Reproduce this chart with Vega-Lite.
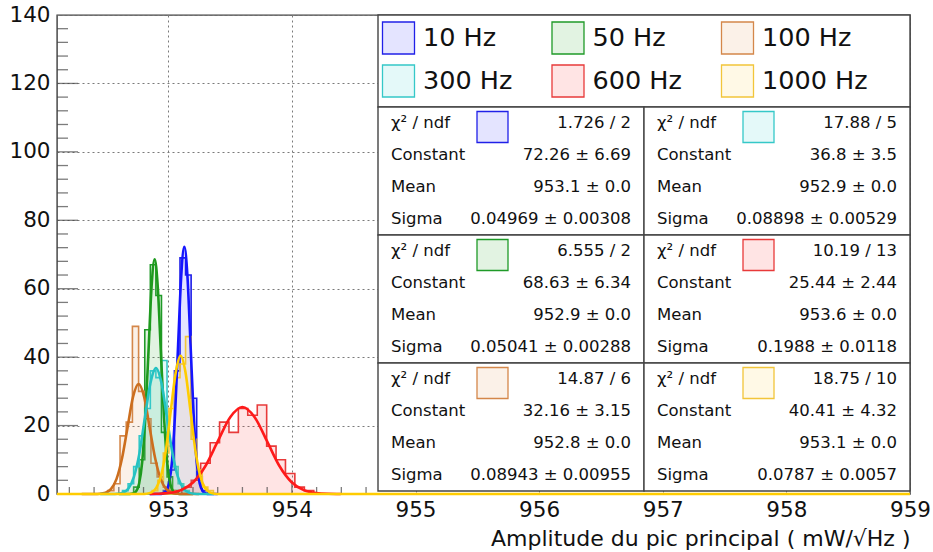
{
  "$schema": "https://vega.github.io/schema/vega-lite/v6.json",
  "width": 853,
  "height": 479,
  "autosize": {"type": "none"},
  "padding": {"left": 57, "top": 15, "right": 23, "bottom": 58},
  "background": "white",
  "config": {
    "font": "DejaVu Sans",
    "view": {"stroke": "#3c3c3c", "strokeWidth": 1.4},
    "axis": {"labelFont": "DejaVu Sans", "titleFont": "DejaVu Sans", "labelColor": "#111", "titleColor": "#111", "titleFontWeight": "normal"}
  },
  "datasets": {
    "hist": [
      {"s": "600 Hz", "x": 953.110, "y": 2}, {"s": "600 Hz", "x": 953.186, "y": 4}, {"s": "600 Hz", "x": 953.262, "y": 9},
      {"s": "600 Hz", "x": 953.339, "y": 15}, {"s": "600 Hz", "x": 953.415, "y": 21}, {"s": "600 Hz", "x": 953.491, "y": 18},
      {"s": "600 Hz", "x": 953.567, "y": 25}, {"s": "600 Hz", "x": 953.643, "y": 23}, {"s": "600 Hz", "x": 953.720, "y": 26},
      {"s": "600 Hz", "x": 953.796, "y": 14}, {"s": "600 Hz", "x": 953.872, "y": 10}, {"s": "600 Hz", "x": 953.948, "y": 6},
      {"s": "600 Hz", "x": 954.024, "y": 2}, {"s": "600 Hz", "x": 954.101, "y": 1}, {"s": "600 Hz", "x": 954.177, "y": 0},

      {"s": "10 Hz", "x": 952.960, "y": 1}, {"s": "10 Hz", "x": 953.005, "y": 7}, {"s": "10 Hz", "x": 953.050, "y": 36},
      {"s": "10 Hz", "x": 953.095, "y": 69}, {"s": "10 Hz", "x": 953.140, "y": 64}, {"s": "10 Hz", "x": 953.185, "y": 28},
      {"s": "10 Hz", "x": 953.230, "y": 5}, {"s": "10 Hz", "x": 953.275, "y": 1}, {"s": "10 Hz", "x": 953.320, "y": 0},

      {"s": "50 Hz", "x": 952.720, "y": 2}, {"s": "50 Hz", "x": 952.765, "y": 10}, {"s": "50 Hz", "x": 952.810, "y": 48},
      {"s": "50 Hz", "x": 952.855, "y": 67}, {"s": "50 Hz", "x": 952.900, "y": 58}, {"s": "50 Hz", "x": 952.945, "y": 18},
      {"s": "50 Hz", "x": 952.990, "y": 5}, {"s": "50 Hz", "x": 953.035, "y": 1}, {"s": "50 Hz", "x": 953.080, "y": 0},

      {"s": "100 Hz", "x": 952.51, "y": 1}, {"s": "100 Hz", "x": 952.56, "y": 3}, {"s": "100 Hz", "x": 952.61, "y": 17},
      {"s": "100 Hz", "x": 952.66, "y": 21}, {"s": "100 Hz", "x": 952.71, "y": 49}, {"s": "100 Hz", "x": 952.76, "y": 30},
      {"s": "100 Hz", "x": 952.81, "y": 22}, {"s": "100 Hz", "x": 952.86, "y": 9}, {"s": "100 Hz", "x": 952.91, "y": 5},
      {"s": "100 Hz", "x": 952.96, "y": 2}, {"s": "100 Hz", "x": 953.01, "y": 1}, {"s": "100 Hz", "x": 953.06, "y": 0},

      {"s": "300 Hz", "x": 952.630, "y": 1}, {"s": "300 Hz", "x": 952.675, "y": 3}, {"s": "300 Hz", "x": 952.720, "y": 8},
      {"s": "300 Hz", "x": 952.765, "y": 17}, {"s": "300 Hz", "x": 952.810, "y": 25}, {"s": "300 Hz", "x": 952.855, "y": 36},
      {"s": "300 Hz", "x": 952.900, "y": 34}, {"s": "300 Hz", "x": 952.945, "y": 39}, {"s": "300 Hz", "x": 952.990, "y": 14},
      {"s": "300 Hz", "x": 953.035, "y": 8}, {"s": "300 Hz", "x": 953.080, "y": 3}, {"s": "300 Hz", "x": 953.125, "y": 1},
      {"s": "300 Hz", "x": 953.170, "y": 0},

      {"s": "1000 Hz", "x": 952.870, "y": 1}, {"s": "1000 Hz", "x": 952.915, "y": 4}, {"s": "1000 Hz", "x": 952.960, "y": 12},
      {"s": "1000 Hz", "x": 953.005, "y": 25}, {"s": "1000 Hz", "x": 953.050, "y": 34}, {"s": "1000 Hz", "x": 953.095, "y": 38},
      {"s": "1000 Hz", "x": 953.140, "y": 46}, {"s": "1000 Hz", "x": 953.185, "y": 16}, {"s": "1000 Hz", "x": 953.230, "y": 7},
      {"s": "1000 Hz", "x": 953.275, "y": 2}, {"s": "1000 Hz", "x": 953.320, "y": 1}, {"s": "1000 Hz", "x": 953.365, "y": 0}
    ],
    "fit": [
      {"s": "10 Hz", "x": 952.850, "y": 0}, {"s": "10 Hz", "x": 952.931, "y": 0.02}, {"s": "10 Hz", "x": 952.956, "y": 0.16},
      {"s": "10 Hz", "x": 952.981, "y": 0.80}, {"s": "10 Hz", "x": 953.006, "y": 3.17}, {"s": "10 Hz", "x": 953.031, "y": 9.78},
      {"s": "10 Hz", "x": 953.055, "y": 23.46}, {"s": "10 Hz", "x": 953.080, "y": 43.83}, {"s": "10 Hz", "x": 953.105, "y": 63.77},
      {"s": "10 Hz", "x": 953.130, "y": 72.26}, {"s": "10 Hz", "x": 953.155, "y": 63.77}, {"s": "10 Hz", "x": 953.180, "y": 43.83},
      {"s": "10 Hz", "x": 953.205, "y": 23.46}, {"s": "10 Hz", "x": 953.229, "y": 9.78}, {"s": "10 Hz", "x": 953.254, "y": 3.17},
      {"s": "10 Hz", "x": 953.279, "y": 0.80}, {"s": "10 Hz", "x": 953.304, "y": 0.16}, {"s": "10 Hz", "x": 953.329, "y": 0.02},
      {"s": "10 Hz", "x": 953.400, "y": 0},

      {"s": "50 Hz", "x": 952.600, "y": 0}, {"s": "50 Hz", "x": 952.688, "y": 0.02}, {"s": "50 Hz", "x": 952.714, "y": 0.15},
      {"s": "50 Hz", "x": 952.739, "y": 0.76}, {"s": "50 Hz", "x": 952.764, "y": 3.01}, {"s": "50 Hz", "x": 952.789, "y": 9.29},
      {"s": "50 Hz", "x": 952.814, "y": 22.28}, {"s": "50 Hz", "x": 952.840, "y": 41.62}, {"s": "50 Hz", "x": 952.865, "y": 60.57},
      {"s": "50 Hz", "x": 952.890, "y": 68.63}, {"s": "50 Hz", "x": 952.915, "y": 60.57}, {"s": "50 Hz", "x": 952.940, "y": 41.62},
      {"s": "50 Hz", "x": 952.966, "y": 22.28}, {"s": "50 Hz", "x": 952.991, "y": 9.29}, {"s": "50 Hz", "x": 953.016, "y": 3.01},
      {"s": "50 Hz", "x": 953.041, "y": 0.76}, {"s": "50 Hz", "x": 953.066, "y": 0.15}, {"s": "50 Hz", "x": 953.092, "y": 0.02},
      {"s": "50 Hz", "x": 953.200, "y": 0},

      {"s": "100 Hz", "x": 952.300, "y": 0}, {"s": "100 Hz", "x": 952.402, "y": 0.01}, {"s": "100 Hz", "x": 952.447, "y": 0.07},
      {"s": "100 Hz", "x": 952.492, "y": 0.36}, {"s": "100 Hz", "x": 952.536, "y": 1.41}, {"s": "100 Hz", "x": 952.581, "y": 4.35},
      {"s": "100 Hz", "x": 952.626, "y": 10.44}, {"s": "100 Hz", "x": 952.671, "y": 19.51}, {"s": "100 Hz", "x": 952.715, "y": 28.38},
      {"s": "100 Hz", "x": 952.760, "y": 32.16}, {"s": "100 Hz", "x": 952.805, "y": 28.38}, {"s": "100 Hz", "x": 952.849, "y": 19.51},
      {"s": "100 Hz", "x": 952.894, "y": 10.44}, {"s": "100 Hz", "x": 952.939, "y": 4.35}, {"s": "100 Hz", "x": 952.984, "y": 1.41},
      {"s": "100 Hz", "x": 953.028, "y": 0.36}, {"s": "100 Hz", "x": 953.073, "y": 0.07}, {"s": "100 Hz", "x": 953.118, "y": 0.01},
      {"s": "100 Hz", "x": 953.250, "y": 0},

      {"s": "300 Hz", "x": 952.450, "y": 0}, {"s": "300 Hz", "x": 952.544, "y": 0.01}, {"s": "300 Hz", "x": 952.589, "y": 0.08},
      {"s": "300 Hz", "x": 952.633, "y": 0.41}, {"s": "300 Hz", "x": 952.678, "y": 1.62}, {"s": "300 Hz", "x": 952.722, "y": 4.98},
      {"s": "300 Hz", "x": 952.767, "y": 11.95}, {"s": "300 Hz", "x": 952.811, "y": 22.32}, {"s": "300 Hz", "x": 952.856, "y": 32.48},
      {"s": "300 Hz", "x": 952.900, "y": 36.8}, {"s": "300 Hz", "x": 952.945, "y": 32.48}, {"s": "300 Hz", "x": 952.989, "y": 22.32},
      {"s": "300 Hz", "x": 953.034, "y": 11.95}, {"s": "300 Hz", "x": 953.078, "y": 4.98}, {"s": "300 Hz", "x": 953.123, "y": 1.62},
      {"s": "300 Hz", "x": 953.167, "y": 0.41}, {"s": "300 Hz", "x": 953.212, "y": 0.08}, {"s": "300 Hz", "x": 953.256, "y": 0.01},
      {"s": "300 Hz", "x": 953.370, "y": 0},

      {"s": "600 Hz", "x": 952.850, "y": 0}, {"s": "600 Hz", "x": 952.904, "y": 0.06}, {"s": "600 Hz", "x": 953.004, "y": 0.28},
      {"s": "600 Hz", "x": 953.103, "y": 1.12}, {"s": "600 Hz", "x": 953.202, "y": 3.44}, {"s": "600 Hz", "x": 953.302, "y": 8.26},
      {"s": "600 Hz", "x": 953.401, "y": 15.43}, {"s": "600 Hz", "x": 953.501, "y": 22.45}, {"s": "600 Hz", "x": 953.600, "y": 25.44},
      {"s": "600 Hz", "x": 953.699, "y": 22.45}, {"s": "600 Hz", "x": 953.799, "y": 15.43}, {"s": "600 Hz", "x": 953.898, "y": 8.26},
      {"s": "600 Hz", "x": 953.998, "y": 3.44}, {"s": "600 Hz", "x": 954.097, "y": 1.12}, {"s": "600 Hz", "x": 954.196, "y": 0.28},
      {"s": "600 Hz", "x": 954.296, "y": 0.06}, {"s": "600 Hz", "x": 954.395, "y": 0.01},

      {"s": "1000 Hz", "x": 952.100, "y": 0}, {"s": "1000 Hz", "x": 952.785, "y": 0.01}, {"s": "1000 Hz", "x": 952.825, "y": 0.09},
      {"s": "1000 Hz", "x": 952.864, "y": 0.45}, {"s": "1000 Hz", "x": 952.903, "y": 1.77}, {"s": "1000 Hz", "x": 952.943, "y": 5.47},
      {"s": "1000 Hz", "x": 952.982, "y": 13.12}, {"s": "1000 Hz", "x": 953.021, "y": 24.51}, {"s": "1000 Hz", "x": 953.061, "y": 35.66},
      {"s": "1000 Hz", "x": 953.100, "y": 40.41}, {"s": "1000 Hz", "x": 953.139, "y": 35.66}, {"s": "1000 Hz", "x": 953.179, "y": 24.51},
      {"s": "1000 Hz", "x": 953.218, "y": 13.12}, {"s": "1000 Hz", "x": 953.257, "y": 5.47}, {"s": "1000 Hz", "x": 953.297, "y": 1.77},
      {"s": "1000 Hz", "x": 953.336, "y": 0.45}, {"s": "1000 Hz", "x": 953.375, "y": 0.09}, {"s": "1000 Hz", "x": 953.415, "y": 0.01},
      {"s": "1000 Hz", "x": 959.000, "y": 0}
    ],
    "yminor": [
      {"y": 4}, {"y": 8}, {"y": 12}, {"y": 16}, {"y": 24}, {"y": 28}, {"y": 32}, {"y": 36},
      {"y": 44}, {"y": 48}, {"y": 52}, {"y": 56}, {"y": 64}, {"y": 68}, {"y": 72}, {"y": 76},
      {"y": 84}, {"y": 88}, {"y": 92}, {"y": 96}, {"y": 104}, {"y": 108}, {"y": 112}, {"y": 116},
      {"y": 124}, {"y": 128}, {"y": 132}, {"y": 136}
    ],
    "ymajor": [{"y": 20}, {"y": 40}, {"y": 60}, {"y": 80}, {"y": 100}, {"y": 120}],
    "xminor": [
      {"x": 952.2}, {"x": 952.4}, {"x": 952.6}, {"x": 952.8}, {"x": 953.2}, {"x": 953.4},
      {"x": 953.6}, {"x": 953.8}, {"x": 954.2}, {"x": 954.4}, {"x": 954.6}
    ],
    "xmajor": [{"x": 953}, {"x": 954}],
    "boxes": [
      {"c0": 0, "c1": 2, "l0": -2.875, "l1": 0},
      {"c0": 0, "c1": 1, "l0": 0, "l1": 4}, {"c0": 1, "c1": 2, "l0": 0, "l1": 4},
      {"c0": 0, "c1": 1, "l0": 4, "l1": 8}, {"c0": 1, "c1": 2, "l0": 4, "l1": 8},
      {"c0": 0, "c1": 1, "l0": 8, "l1": 12}, {"c0": 1, "c1": 2, "l0": 8, "l1": 12}
    ],
    "stats": [
      {"s": "10 Hz", "col": 0, "line": 0, "k": "χ² / ndf", "v": "1.726 / 2"},
      {"s": "10 Hz", "col": 0, "line": 1, "k": "Constant", "v": "72.26 ± 6.69"},
      {"s": "10 Hz", "col": 0, "line": 2, "k": "Mean", "v": "953.1 ± 0.0"},
      {"s": "10 Hz", "col": 0, "line": 3, "k": "Sigma", "v": "0.04969 ± 0.00308"},
      {"s": "300 Hz", "col": 1, "line": 0, "k": "χ² / ndf", "v": "17.88 / 5"},
      {"s": "300 Hz", "col": 1, "line": 1, "k": "Constant", "v": "36.8 ± 3.5"},
      {"s": "300 Hz", "col": 1, "line": 2, "k": "Mean", "v": "952.9 ± 0.0"},
      {"s": "300 Hz", "col": 1, "line": 3, "k": "Sigma", "v": "0.08898 ± 0.00529"},
      {"s": "50 Hz", "col": 0, "line": 4, "k": "χ² / ndf", "v": "6.555 / 2"},
      {"s": "50 Hz", "col": 0, "line": 5, "k": "Constant", "v": "68.63 ± 6.34"},
      {"s": "50 Hz", "col": 0, "line": 6, "k": "Mean", "v": "952.9 ± 0.0"},
      {"s": "50 Hz", "col": 0, "line": 7, "k": "Sigma", "v": "0.05041 ± 0.00288"},
      {"s": "600 Hz", "col": 1, "line": 4, "k": "χ² / ndf", "v": "10.19 / 13"},
      {"s": "600 Hz", "col": 1, "line": 5, "k": "Constant", "v": "25.44 ± 2.44"},
      {"s": "600 Hz", "col": 1, "line": 6, "k": "Mean", "v": "953.6 ± 0.0"},
      {"s": "600 Hz", "col": 1, "line": 7, "k": "Sigma", "v": "0.1988 ± 0.0118"},
      {"s": "100 Hz", "col": 0, "line": 8, "k": "χ² / ndf", "v": "14.87 / 6"},
      {"s": "100 Hz", "col": 0, "line": 9, "k": "Constant", "v": "32.16 ± 3.15"},
      {"s": "100 Hz", "col": 0, "line": 10, "k": "Mean", "v": "952.8 ± 0.0"},
      {"s": "100 Hz", "col": 0, "line": 11, "k": "Sigma", "v": "0.08943 ± 0.00955"},
      {"s": "1000 Hz", "col": 1, "line": 8, "k": "χ² / ndf", "v": "18.75 / 10"},
      {"s": "1000 Hz", "col": 1, "line": 9, "k": "Constant", "v": "40.41 ± 4.32"},
      {"s": "1000 Hz", "col": 1, "line": 10, "k": "Mean", "v": "953.1 ± 0.0"},
      {"s": "1000 Hz", "col": 1, "line": 11, "k": "Sigma", "v": "0.0787 ± 0.0057"}
    ],
    "legend": [
      {"s": "10 Hz", "lc": 0, "lr": 0}, {"s": "50 Hz", "lc": 1, "lr": 0}, {"s": "100 Hz", "lc": 2, "lr": 0},
      {"s": "300 Hz", "lc": 0, "lr": 1}, {"s": "600 Hz", "lc": 1, "lr": 1}, {"s": "1000 Hz", "lc": 2, "lr": 1}
    ]
  },
  "layer": [
    {
      "layer": [
        {
          "data": {"name": "hist"},
          "mark": {"type": "area", "interpolate": "step-after", "fillOpacity": 0.13, "strokeWidth": 1.6},
          "encoding": {
            "x": {"field": "x", "type": "quantitative", "title": "Amplitude du pic principal ( mW/√Hz )",
                  "scale": {"domain": [952.1, 959], "nice": false, "zero": false},
                  "axis": {"values": [953, 954, 955, 956, 957, 958, 959], "format": "d", "ticks": false, "domain": false, "grid": true,
                           "gridDash": [2, 3], "gridColor": "#7a7a7a", "gridWidth": 1, "labelFontSize": 21.5, "labelPadding": 5,
                           "labelFlush": false, "titleFontSize": 22, "titleAnchor": "end", "titlePadding": 8}},
            "y": {"field": "y", "type": "quantitative", "stack": null, "title": null,
                  "scale": {"domain": [0, 140], "nice": false},
                  "axis": {"values": [0, 20, 40, 60, 80, 100, 120, 140], "format": "d", "ticks": false, "domain": false, "grid": true,
                           "gridDash": [2, 3], "gridColor": "#7a7a7a", "gridWidth": 1, "labelFontSize": 21.5, "labelPadding": 7,
                           "labelFlush": false}},
            "fill": {"field": "s", "type": "nominal", "legend": null,
                     "scale": {"domain": ["10 Hz", "50 Hz", "100 Hz", "300 Hz", "600 Hz", "1000 Hz"],
                               "range": ["#3030ff", "#22a022", "#e09050", "#30d0d0", "#ff3030", "#ffd040"]}},
            "stroke": {"field": "s", "type": "nominal", "legend": null,
                       "scale": {"domain": ["10 Hz", "50 Hz", "100 Hz", "300 Hz", "600 Hz", "1000 Hz"],
                                 "range": ["#2020e8", "#1f9a28", "#d4874a", "#35c8c8", "#e83a3a", "#f2c53a"]}}
          }
        },
        {
          "data": {"name": "yminor"},
          "mark": {"type": "tick", "orient": "horizontal", "size": 11, "thickness": 1.3, "xOffset": 5.5, "color": "#444"},
          "encoding": {"y": {"field": "y", "type": "quantitative", "title": null}, "x": {"datum": 952.1, "type": "quantitative"}}
        },
        {
          "data": {"name": "ymajor"},
          "mark": {"type": "tick", "orient": "horizontal", "size": 21, "thickness": 1.3, "xOffset": 10.5, "color": "#444"},
          "encoding": {"y": {"field": "y", "type": "quantitative", "title": null}, "x": {"datum": 952.1, "type": "quantitative"}}
        },
        {
          "data": {"name": "xminor"},
          "mark": {"type": "tick", "orient": "vertical", "size": 7, "thickness": 1.3, "yOffset": -3.5, "color": "#444"},
          "encoding": {"x": {"field": "x", "type": "quantitative", "title": "Amplitude du pic principal ( mW/√Hz )"}, "y": {"datum": 0, "type": "quantitative"}}
        },
        {
          "data": {"name": "xmajor"},
          "mark": {"type": "tick", "orient": "vertical", "size": 13, "thickness": 1.3, "yOffset": -6.5, "color": "#444"},
          "encoding": {"x": {"field": "x", "type": "quantitative", "title": "Amplitude du pic principal ( mW/√Hz )"}, "y": {"datum": 0, "type": "quantitative"}}
        },
        {
          "data": {"name": "fit"},
          "mark": {"type": "line", "interpolate": "monotone", "strokeWidth": 2.6},
          "encoding": {
            "x": {"field": "x", "type": "quantitative", "title": "Amplitude du pic principal ( mW/√Hz )"},
            "y": {"field": "y", "type": "quantitative", "title": null},
            "color": {"field": "s", "type": "nominal", "legend": null,
                      "scale": {"domain": ["10 Hz", "50 Hz", "100 Hz", "300 Hz", "600 Hz", "1000 Hz"],
                                "range": ["#1515ff", "#1e9a1e", "#cc6e1e", "#25c2c2", "#ff1a1a", "#ffcc00"]}}
          }
        }
      ]
    },
    {
      "layer": [
        {
          "data": {"name": "boxes"},
          "mark": {"type": "rect", "fill": "white", "stroke": "#444", "strokeWidth": 1.4},
          "encoding": {
            "x": {"field": "c0", "type": "quantitative", "axis": null, "scale": {"domain": [-1.20677, 2.0], "nice": false, "zero": false}},
            "x2": {"field": "c1"},
            "y": {"field": "l0", "type": "quantitative", "axis": null, "scale": {"domain": [-2.875, 12.09375], "reverse": true, "nice": false, "zero": false}},
            "y2": {"field": "l1"}
          }
        },
        {
          "data": {"name": "stats"},
          "mark": {"type": "text", "align": "left", "baseline": "middle", "dx": 13, "dy": 16, "fontSize": 16.5, "font": "DejaVu Sans", "color": "#111"},
          "encoding": {
            "x": {"field": "col", "type": "quantitative", "axis": null, "scale": {"domain": [-1.20677, 2.0], "nice": false, "zero": false}},
            "y": {"field": "line", "type": "quantitative", "axis": null, "scale": {"domain": [-2.875, 12.09375], "reverse": true, "nice": false, "zero": false}},
            "text": {"field": "k"}
          }
        },
        {
          "data": {"name": "stats"},
          "mark": {"type": "text", "align": "right", "baseline": "middle", "dx": 253, "dy": 16, "fontSize": 16.5, "font": "DejaVu Sans", "color": "#111"},
          "encoding": {
            "x": {"field": "col", "type": "quantitative", "axis": null, "scale": {"domain": [-1.20677, 2.0], "nice": false, "zero": false}},
            "y": {"field": "line", "type": "quantitative", "axis": null, "scale": {"domain": [-2.875, 12.09375], "reverse": true, "nice": false, "zero": false}},
            "text": {"field": "v"}
          }
        },
        {
          "data": {"name": "stats"},
          "transform": [{"filter": "datum.k === 'Constant'"}],
          "mark": {"type": "point", "shape": "square", "size": 961, "filled": true, "fillOpacity": 0.13, "strokeOpacity": 1, "strokeWidth": 1.3, "xOffset": 114.5, "yOffset": -12},
          "encoding": {
            "x": {"field": "col", "type": "quantitative", "axis": null, "scale": {"domain": [-1.20677, 2.0], "nice": false, "zero": false}},
            "y": {"field": "line", "type": "quantitative", "axis": null, "scale": {"domain": [-2.875, 12.09375], "reverse": true, "nice": false, "zero": false}},
            "fill": {"field": "s", "type": "nominal", "legend": null,
                     "scale": {"domain": ["10 Hz", "50 Hz", "100 Hz", "300 Hz", "600 Hz", "1000 Hz"],
                               "range": ["#3030ff", "#22a022", "#e09050", "#30d0d0", "#ff3030", "#ffd040"]}},
            "stroke": {"field": "s", "type": "nominal", "legend": null,
                       "scale": {"domain": ["10 Hz", "50 Hz", "100 Hz", "300 Hz", "600 Hz", "1000 Hz"],
                                 "range": ["#2020e8", "#1f9a28", "#d4874a", "#35c8c8", "#e83a3a", "#f2c53a"]}}
          }
        }
      ]
    },
    {
      "layer": [
        {
          "data": {"name": "legend"},
          "mark": {"type": "point", "shape": "square", "size": 1024, "filled": true, "fillOpacity": 0.13, "strokeOpacity": 1, "strokeWidth": 1.3},
          "encoding": {
            "x": {"field": "lc", "type": "quantitative", "axis": null, "scale": {"domain": [-2.0147, 3.0177], "nice": false, "zero": false}},
            "y": {"field": "lr", "type": "quantitative", "axis": null, "scale": {"domain": [-0.5349, 10.6047], "reverse": true, "nice": false, "zero": false}},
            "fill": {"field": "s", "type": "nominal", "legend": null,
                     "scale": {"domain": ["10 Hz", "50 Hz", "100 Hz", "300 Hz", "600 Hz", "1000 Hz"],
                               "range": ["#3030ff", "#22a022", "#e09050", "#30d0d0", "#ff3030", "#ffd040"]}},
            "stroke": {"field": "s", "type": "nominal", "legend": null,
                       "scale": {"domain": ["10 Hz", "50 Hz", "100 Hz", "300 Hz", "600 Hz", "1000 Hz"],
                                 "range": ["#2020e8", "#1f9a28", "#d4874a", "#35c8c8", "#e83a3a", "#f2c53a"]}}
          }
        },
        {
          "data": {"name": "legend"},
          "mark": {"type": "text", "align": "left", "baseline": "middle", "dx": 24.5, "fontSize": 25.5, "font": "DejaVu Sans", "color": "#111"},
          "encoding": {
            "x": {"field": "lc", "type": "quantitative", "axis": null, "scale": {"domain": [-2.0147, 3.0177], "nice": false, "zero": false}},
            "y": {"field": "lr", "type": "quantitative", "axis": null, "scale": {"domain": [-0.5349, 10.6047], "reverse": true, "nice": false, "zero": false}},
            "text": {"field": "s"}
          }
        }
      ]
    }
  ],
  "resolve": {"scale": {"x": "independent", "y": "independent"}}
}
